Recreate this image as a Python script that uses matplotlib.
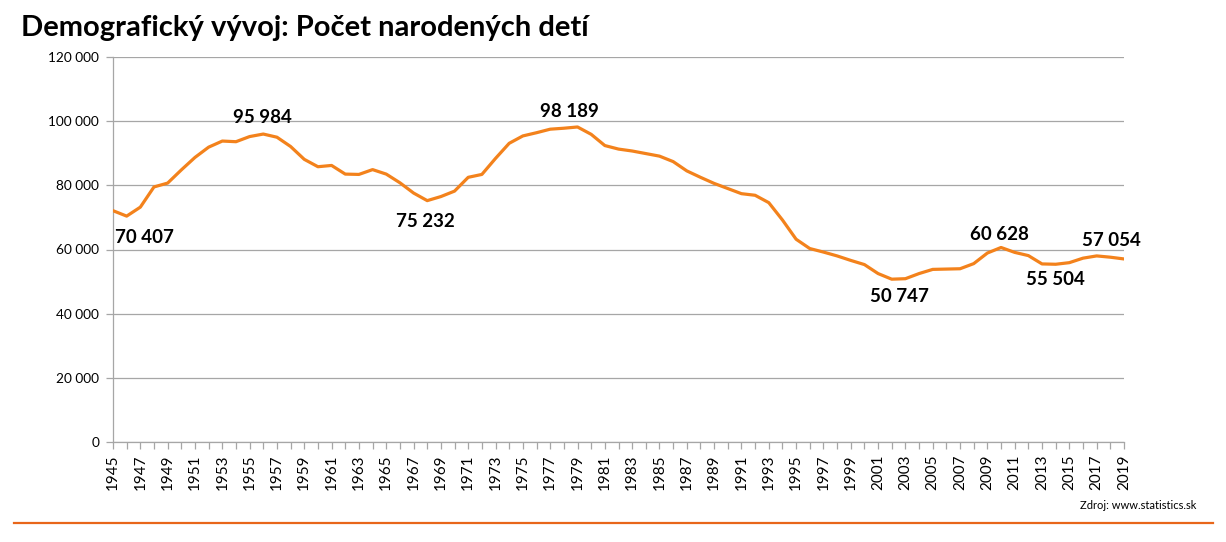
import matplotlib.pyplot as plt
import numpy as np

LINE_COLOR = "#F3821C"
RULE_COLOR = "#E8661A"
GRID_COLOR = "#A6A6A6"

# Pocet narodenych deti na Slovensku (odcitane z grafu)
years = list(range(1945, 2020))
births = [
    72100, 70407, 73200, 79500, 80700, 84800, 88700, 91900, 93800, 93600,
    95200, 95984, 95000, 92100, 88100, 85800, 86200, 83500, 83400, 84900,
    83500, 80800, 77600, 75232, 76500, 78200, 82500, 83400, 88400, 93100,
    95400, 96400, 97500, 97800, 98189, 95900, 92400, 91300, 90700, 89900,
    89100, 87400, 84500, 82500, 80600, 79000, 77400, 76900, 74600, 69200,
    63200, 60300, 59200, 58000, 56600, 55300, 52500, 50747, 50900, 52500,
    53800, 53900, 54000, 55600, 58900, 60628, 59100, 58100, 55504, 55400,
    55900, 57300, 58000, 57600, 57054,
]

# oznacene body: rok, text, posun popisku v pixeloch
label_years = [1946, 1956, 1968, 1979, 2002, 2010, 2013, 2019]
label_texts = ["70 407", "95 984", "75 232", "98 189", "50 747", "60 628", "55 504", "57 054"]
label_offsets = [(18, -21), (-1, 17), (-2, -21), (-8, 15), (8, -17), (-2, 13), (13, -16), (-13, 18)]

fig = plt.figure(figsize=(12.26, 5.42), dpi=100)
ax = fig.add_axes([113 / 1226, 1 - 442 / 542, (1124 - 113) / 1226, (442 - 57) / 542])

ax.plot(years, births, color=LINE_COLOR, linewidth=2.3, solid_joinstyle="round", zorder=3)

for yr, txt, (dx, dy) in zip(label_years, label_texts, label_offsets):
    ax.annotate(txt, (yr, births[years.index(yr)]), xytext=(dx, dy),
                textcoords="offset pixels", ha="center", va="center",
                fontsize=13.5, fontweight="bold", family="Lato", color="black", zorder=4)

# osi
ax.set_xlim(1945, 2019)
ax.set_ylim(0, 120000)
yt = np.arange(0, 120001, 20000)
ax.set_yticks(yt)
ax.set_yticklabels([f"{v:,}".replace(",", " ") for v in yt], family="Lato", fontsize=9.8)
ax.set_xticks(years, minor=True)
ax.set_xticks(years[::2])
ax.set_xticklabels([str(y) for y in years[::2]], rotation=90, family="Lato", fontsize=11)
ax.tick_params(axis="y", length=5, width=0.9, color=GRID_COLOR, pad=5)
ax.tick_params(axis="x", which="both", length=5, width=0.9, color=GRID_COLOR, pad=4)
ax.grid(axis="y", color=GRID_COLOR, linewidth=0.9)
ax.set_axisbelow(True)
for side in ["top", "right"]:
    ax.spines[side].set_visible(False)
for side in ["left", "bottom"]:
    ax.spines[side].set_color(GRID_COLOR)
    ax.spines[side].set_linewidth(0.9)

fig.text(21 / 1226, 1 - 36 / 542, "Demografický vývoj: Počet narodených detí",
         ha="left", va="baseline", fontsize=21, fontweight="bold", family="Lato")
fig.text(1196 / 1226, 1 - 509 / 542, "Zdroj: www.statistics.sk",
         ha="right", va="baseline", fontsize=8, family="Lato")
fig.add_artist(plt.Line2D([14 / 1226, 1213 / 1226], [1 - 523 / 542] * 2,
                          color=RULE_COLOR, linewidth=1.6))

fig.savefig("out.png", dpi=100)
